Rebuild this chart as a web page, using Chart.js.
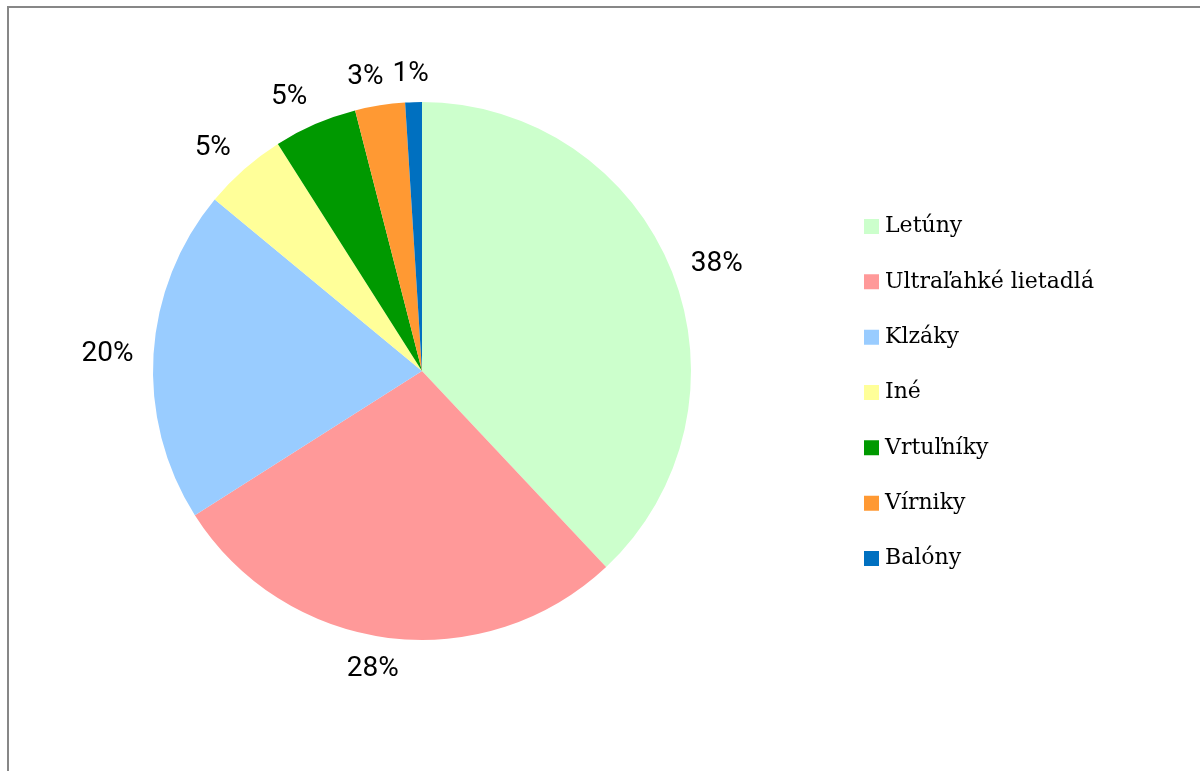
<!DOCTYPE html>
<html>
<head>
<meta charset="utf-8">
<script src="https://cdn.jsdelivr.net/npm/chart.js@4/dist/chart.umd.min.js"></script>
<style>
  html, body { margin: 0; padding: 0; background: #fff; overflow: hidden; }
  #wrap { position: relative; width: 1200px; height: 771px; }
  #frame { position: absolute; left: 7px; top: 6px; width: 1300px; height: 900px; border: 2px solid #878787; box-sizing: border-box; }
  #c { position: absolute; left: 0; top: 0; }
</style>
</head>
<body>
<div id="wrap">
  <div id="frame"></div>
  <canvas id="c" width="1200" height="771"></canvas>
</div>
<script>
const categories = ["Letúny", "Ultraľahké lietadlá", "Klzáky", "Iné", "Vrtuľníky", "Vírniky", "Balóny"];
const shares = [38, 28, 20, 5, 5, 3, 1];
const sliceColors = ["#CCFFCC", "#FF9999", "#99CCFF", "#FFFF99", "#009900", "#FF9933", "#0070C0"];

const clamp = (v) => Math.max(-1, Math.min(1, v));

const pctLabels = {
  id: 'pctLabels',
  afterDatasetsDraw(chart) {
    const ctx = chart.ctx;
    const meta = chart.getDatasetMeta(0);
    ctx.save();
    ctx.font = '28px Roboto';
    ctx.fillStyle = '#000';
    ctx.textAlign = 'center';
    ctx.textBaseline = 'middle';
    meta.data.forEach((arc, i) => {
      const p = arc.getProps(['x', 'y', 'startAngle', 'endAngle', 'outerRadius'], true);
      const mid = (p.startAngle + p.endAngle) / 2;
      const ux = Math.cos(mid), uy = Math.sin(mid);
      const txt = shares[i] + '%';
      const w = ctx.measureText(txt).width;
      const h = 20;
      const d = p.outerRadius + 20;
      const ax = p.x + ux * d, ay = p.y + uy * d;
      ctx.fillText(txt, ax + clamp(4 * ux) * w / 2, ay + clamp(1.3 * uy * Math.abs(uy)) * h / 2 + 1.5);
    });
    ctx.restore();
  }
};

const legendLeft = 835.67;
const chart = new Chart(document.getElementById('c'), {
  type: 'pie',
  data: {
    labels: categories,
    datasets: [{
      data: shares,
      backgroundColor: sliceColors,
      borderWidth: 0
    }]
  },
  options: {
    responsive: false,
    animation: false,
    layout: { padding: { left: 8.33, right: 100, top: 102, bottom: 131 } },
    plugins: {
      tooltip: { enabled: false },
      legend: {
        position: 'right',
        title: { display: true, text: '', font: { size: 10 }, padding: { top: 31, bottom: 0 } },
        labels: {
          usePointStyle: true,
          pointStyle: 'rect',
          boxWidth: 5,
          boxHeight: 15,
          padding: 33.33,
          color: '#000',
          font: { family: '"DejaVu Serif"', size: 22 }
        }
      }
    }
  },
  plugins: [pctLabels]
});
// place the legend box so that the pie keeps its position
chart.options.layout.padding.right = 1200 - legendLeft - chart.legend.width;
chart.update();
</script>
</body>
</html>
